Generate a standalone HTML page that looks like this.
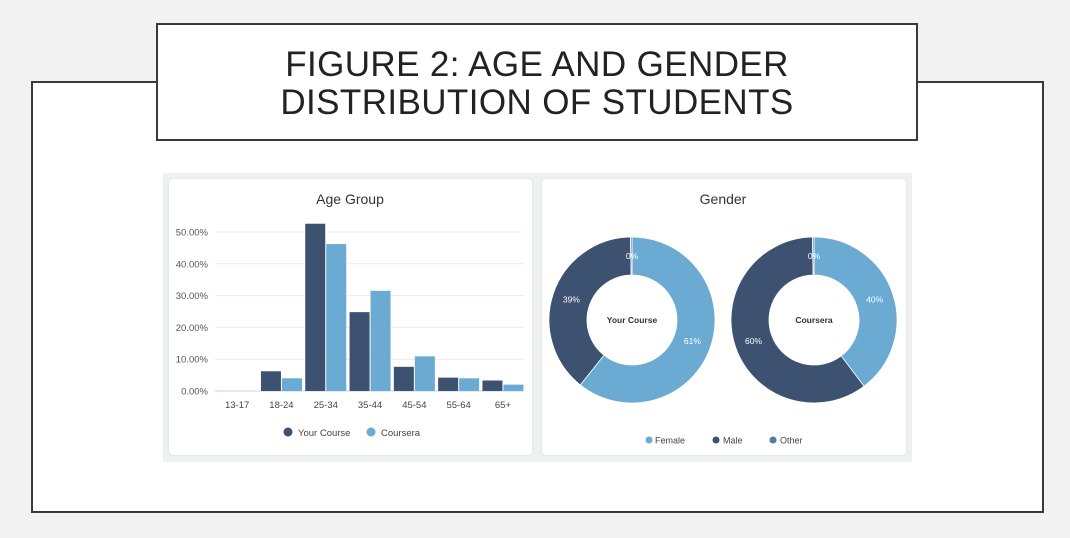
<!DOCTYPE html>
<html><head><meta charset="utf-8"><style>
body{margin:0;width:1070px;height:538px;background:#f2f2f2;position:relative;overflow:hidden;font-family:"Liberation Sans",sans-serif}
.outer{position:absolute;left:31px;top:81px;width:1009px;height:428px;border:2px solid #3a3a3a;background:#fff}
.titlebox{position:absolute;left:156px;top:23px;width:762px;height:118px;border:2px solid #3a3a3a;background:#fff;text-align:center;color:#222;font-size:35px;letter-spacing:0.4px;line-height:38px;padding-top:21px;box-sizing:border-box}
.panel{position:absolute;left:163px;top:173px;width:749px;height:289px;background:#eff0f2}
.card{position:absolute;background:#fff;border-radius:4px;box-shadow:0 0 2px #d8d8d8}
</style></head><body>
<div class="outer"></div>
<div class="titlebox">FIGURE 2: AGE AND GENDER<br>DISTRIBUTION OF STUDENTS</div>
<div class="panel"></div>
<div class="card" style="left:169px;top:179px;width:363px;height:276px"></div>
<div class="card" style="left:542px;top:179px;width:364px;height:276px"></div>
<svg width="1070" height="538" style="position:absolute;left:0;top:0" id="svg">
<text x="350" y="204" text-anchor="middle" font-size="14" fill="#333">Age Group</text>
<text x="723" y="204" text-anchor="middle" font-size="14" fill="#333">Gender</text>
<g id="bars"></g><g id="donuts"></g>
</svg>
<script>
const categories=["13-17","18-24","25-34","35-44","45-54","55-64","65+"];
const yourCourse=[0,6.2,52.6,24.8,7.6,4.2,3.3];
const coursera=[0,4.0,46.2,31.5,10.9,4.0,2.0];
const yTicks=[0,10,20,30,40,50];
const genderLabels=["Female","Male","Other"];
const genderYour=[60.7,39,0.3];
const genderCoursera=[39.7,60,0.3];
const NS="http://www.w3.org/2000/svg";
const DARK="#3d5170",LIGHT="#6aaad3",OTHER="#4a7f9f";
function mk(t,a,p){const e=document.createElementNS(NS,t);for(const k in a)e.setAttribute(k,a[k]);p.appendChild(e);return e;}
const bars=document.getElementById('bars');
const x0=215,bw=44.3,y0=391,ypp=3.18;
const ys=v=>y0-v*ypp;
yTicks.forEach(t=>{
 const l=mk('line',{x1:x0,x2:524,y1:ys(t),y2:ys(t),stroke:t?'#ececec':'#c9d6e8','stroke-width':1},bars);
 
 
 const tx=mk('text',{x:208,y:ys(t)+3.5,'text-anchor':'end','font-size':9.5,fill:'#555'},bars);
 tx.textContent=t.toFixed(2)+'%';
 
 
});
categories.forEach((c,i)=>{
 const cx=x0+bw*(i+0.5);
 [[yourCourse[i],DARK,cx-20.5],[coursera[i],LIGHT,cx+0.5]].forEach(([v,col,x],j)=>{
  if(v<=0)return;
  const r=mk('rect',{x:x,y:ys(v),width:20,height:v*ypp,fill:col},bars);
  
  
 });
 const t=mk('text',{x:cx,y:408,'text-anchor':'middle','font-size':9.5,fill:'#444'},bars);
 t.textContent=c;
 
 
});
[[288,DARK,"Your Course",298],[371,LIGHT,"Coursera",381]].forEach(([x,col,lab,tx])=>{
 const c=mk('circle',{cx:x,cy:432,r:4.5,fill:col},bars);
 
 
 const t=mk('text',{x:tx,y:436,'font-size':9.5,fill:'#444'},bars);
 t.textContent=lab;
 
 
});
const don=document.getElementById('donuts');
const cols=[LIGHT,DARK,OTHER];
function donut(cx,cy,vals,center){
 const R=83,r=45;const tot=vals.reduce((a,b)=>a+b,0);let a=0;
 vals.forEach((v,i)=>{
  const a1=a,a2=a+v/tot*2*Math.PI;a=a2;
  const p=(ang,rr)=>[cx+rr*Math.sin(ang),cy-rr*Math.cos(ang)];
  const [x1,y1]=p(a1,R),[x2,y2]=p(a2,R),[x3,y3]=p(a2,r),[x4,y4]=p(a1,r);
  const lg=(a2-a1)>Math.PI?1:0;
  const s=mk('path',{d:`M${x1},${y1}A${R},${R} 0 ${lg} 1 ${x2},${y2}L${x3},${y3}A${r},${r} 0 ${lg} 0 ${x4},${y4}Z`,fill:cols[i],stroke:'#fff','stroke-width':0.8},don);
  
  
  const m=(a1+a2)/2;let [lx,ly]=p(m,64);
  if(v<2){lx=cx;ly=cy-64;}
  const t=mk('text',{x:lx,y:ly+3,'text-anchor':'middle','font-size':8.5,fill:'#fff'},don);
  t.textContent=Math.round(v)+'%';
  
  
 });
 const t=mk('text',{x:cx,y:cy+3,'text-anchor':'middle','font-size':8.5,'font-weight':'bold',fill:'#333'},don);
 t.textContent=center;
 
 
}
donut(632,320,genderYour,"Your Course");
donut(814,320,genderCoursera,"Coursera");
[[649,LIGHT,"Female",655],[716,DARK,"Male",723],[773,OTHER,"Other",780]].forEach(([x,col,lab,tx])=>{
 const c=mk('circle',{cx:x,cy:440,r:3.5,fill:col},don);
 
 
 const t=mk('text',{x:tx,y:443.5,'font-size':9,fill:'#444'},don);
 t.textContent=lab;
 
 
});
</script>
</body></html>
